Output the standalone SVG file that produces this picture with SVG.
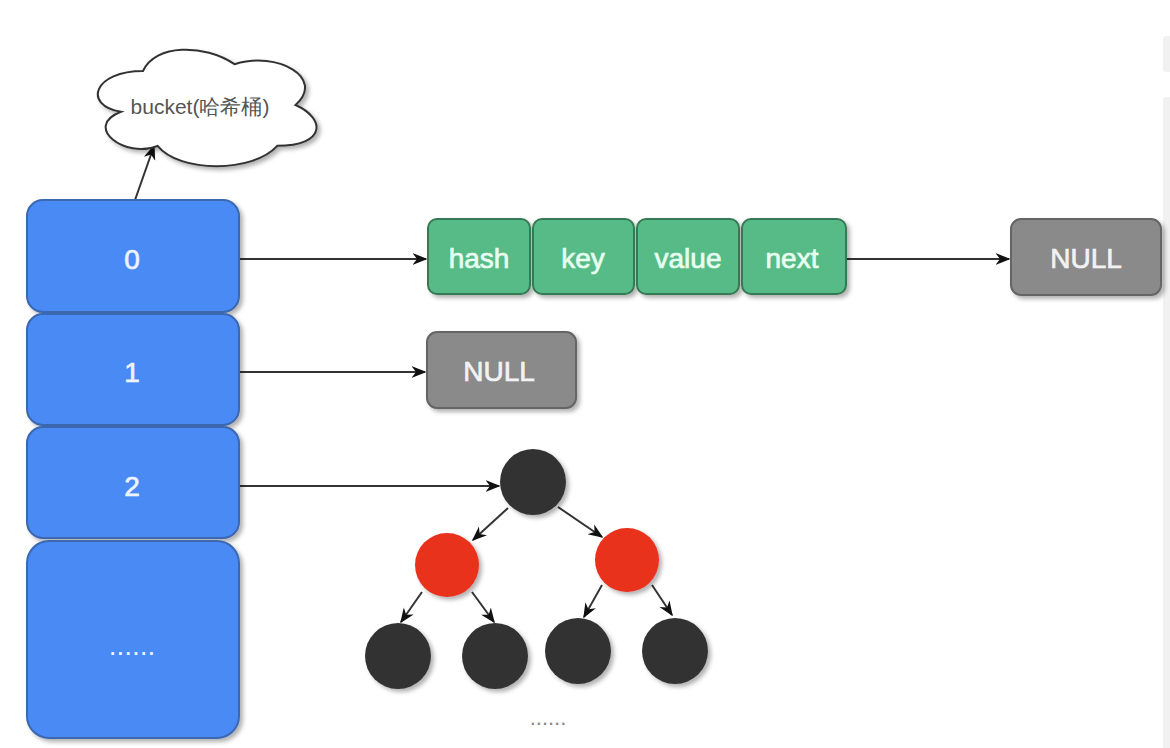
<svg xmlns="http://www.w3.org/2000/svg" width="1170" height="748" viewBox="0 0 1170 748">
<style>
.blue{fill:#4a8af4;stroke:#3a67b0;stroke-width:2}
.green{fill:#56bb86;stroke:#357a55;stroke-width:2}
.gray{fill:#8a8a8a;stroke:#656565;stroke-width:2}
.dark{fill:#333333}
.red{fill:#e8301f}
.lbl{font-family:"Liberation Sans",Arial,sans-serif;text-anchor:middle;dominant-baseline:central}
.wt{fill:#eef4ff;stroke:#eef4ff;stroke-width:0.7;font-size:28px}
.gt{fill:#e6fff0;stroke:#e6fff0;stroke-width:0.7;font-size:28px}
.nt{fill:#f2f2f2;stroke:#f2f2f2;stroke-width:0.7;font-size:28px}
.edge{fill:none;stroke:#333;stroke-width:2;marker-end:url(#ah)}
.sh{filter:url(#ds)}
</style>
<defs>
<filter id="ds" x="-20%" y="-20%" width="150%" height="150%">
<feDropShadow dx="3" dy="3" stdDeviation="2" flood-color="#000" flood-opacity="0.3"/>
</filter>
<marker id="ah" viewBox="0 0 10 10" refX="9" refY="5" markerWidth="15" markerHeight="15" markerUnits="userSpaceOnUse" orient="auto">
<path d="M0,1 L10,5 L0,9 L3,5 Z" fill="#111"/>
</marker>
</defs>
<rect width="1170" height="748" fill="#ffffff"/>
<rect x="1163" y="36" width="10" height="36" rx="3" fill="#f1f1f1"/>
<rect x="1163" y="97" width="10" height="660" rx="3" fill="#f1f1f1"/>

<g id="connectors">
<path class="edge" d="M135,200 L154,146"/>
<path class="edge" d="M240,259 L426,259"/>
<path class="edge" d="M847,259 L1009,259"/>
<path class="edge" d="M240,372 L425,372"/>
<path class="edge" d="M240,486 L499,486"/>
<path class="edge" d="M508,508 L473,540"/>
<path class="edge" d="M558,507 L602,537"/>
<path class="edge" d="M422,592 L401,622"/>
<path class="edge" d="M472,592 L494,622"/>
<path class="edge" d="M602,585 L584,617"/>
<path class="edge" d="M652,585 L672,615"/>
</g>

<g id="bucket-cloud">
<path class="sh" d="M143,71 C94.2,71 82,105 121,111.8 C82,126.8 125.9,159.4 157.6,145.8 C179.6,173 252.8,173 277.2,145.8 C326,145.8 326,118.6 295.5,105 C326,77.8 277.2,50.6 234.5,64.2 C204,43.8 155.2,43.8 143,71 Z" fill="#ffffff" stroke="#333" stroke-width="2"/>
<text class="lbl" x="200" y="106" font-size="21" fill="#555" font-family="'Liberation Sans','Noto Sans CJK SC',sans-serif">bucket(哈希桶)</text>
</g>

<g id="slot-0"><rect class="blue sh" x="27" y="200" width="212" height="112" rx="16"/><text class="lbl wt" x="132" y="259">0</text></g>
<g id="slot-1"><rect class="blue sh" x="27" y="314" width="212" height="111" rx="16"/><text class="lbl wt" x="132" y="372">1</text></g>
<g id="slot-2"><rect class="blue sh" x="27" y="427" width="212" height="111" rx="16"/><text class="lbl wt" x="132" y="486">2</text></g>
<g id="slot-more"><rect class="blue sh" x="27" y="541" width="212" height="197" rx="22"/><text class="lbl" x="132" y="645" font-size="28" fill="#eef4ff">......</text></g>

<g id="node-hash"><rect class="green sh" x="428" y="219" width="102" height="75" rx="9"/><text class="lbl gt" x="479" y="258">hash</text></g>
<g id="node-key"><rect class="green sh" x="533" y="219" width="101" height="75" rx="9"/><text class="lbl gt" x="583" y="258">key</text></g>
<g id="node-value"><rect class="green sh" x="637" y="219" width="102" height="75" rx="9"/><text class="lbl gt" x="688" y="258">value</text></g>
<g id="node-next"><rect class="green sh" x="742" y="219" width="104" height="75" rx="9"/><text class="lbl gt" x="792" y="258">next</text></g>

<g id="null-0"><rect class="gray sh" x="1011" y="219" width="150" height="76" rx="10"/><text class="lbl nt" x="1086" y="258">NULL</text></g>
<g id="null-1"><rect class="gray sh" x="427" y="332" width="149" height="76" rx="10"/><text class="lbl nt" x="499" y="371">NULL</text></g>

<g id="tree-root"><circle class="dark sh" cx="533" cy="482" r="33"/></g>
<g id="tree-red-left"><circle class="red sh" cx="447" cy="565" r="32"/></g>
<g id="tree-red-right"><circle class="red sh" cx="627" cy="560" r="32"/></g>
<g id="tree-leaf-1"><circle class="dark sh" cx="398" cy="656" r="33"/></g>
<g id="tree-leaf-2"><circle class="dark sh" cx="495" cy="656" r="33"/></g>
<g id="tree-leaf-3"><circle class="dark sh" cx="578" cy="651" r="33"/></g>
<g id="tree-leaf-4"><circle class="dark sh" cx="675" cy="651" r="33"/></g>
<g id="tree-more"><text class="lbl" x="548" y="717" font-size="22" fill="#888">......</text></g>
</svg>
